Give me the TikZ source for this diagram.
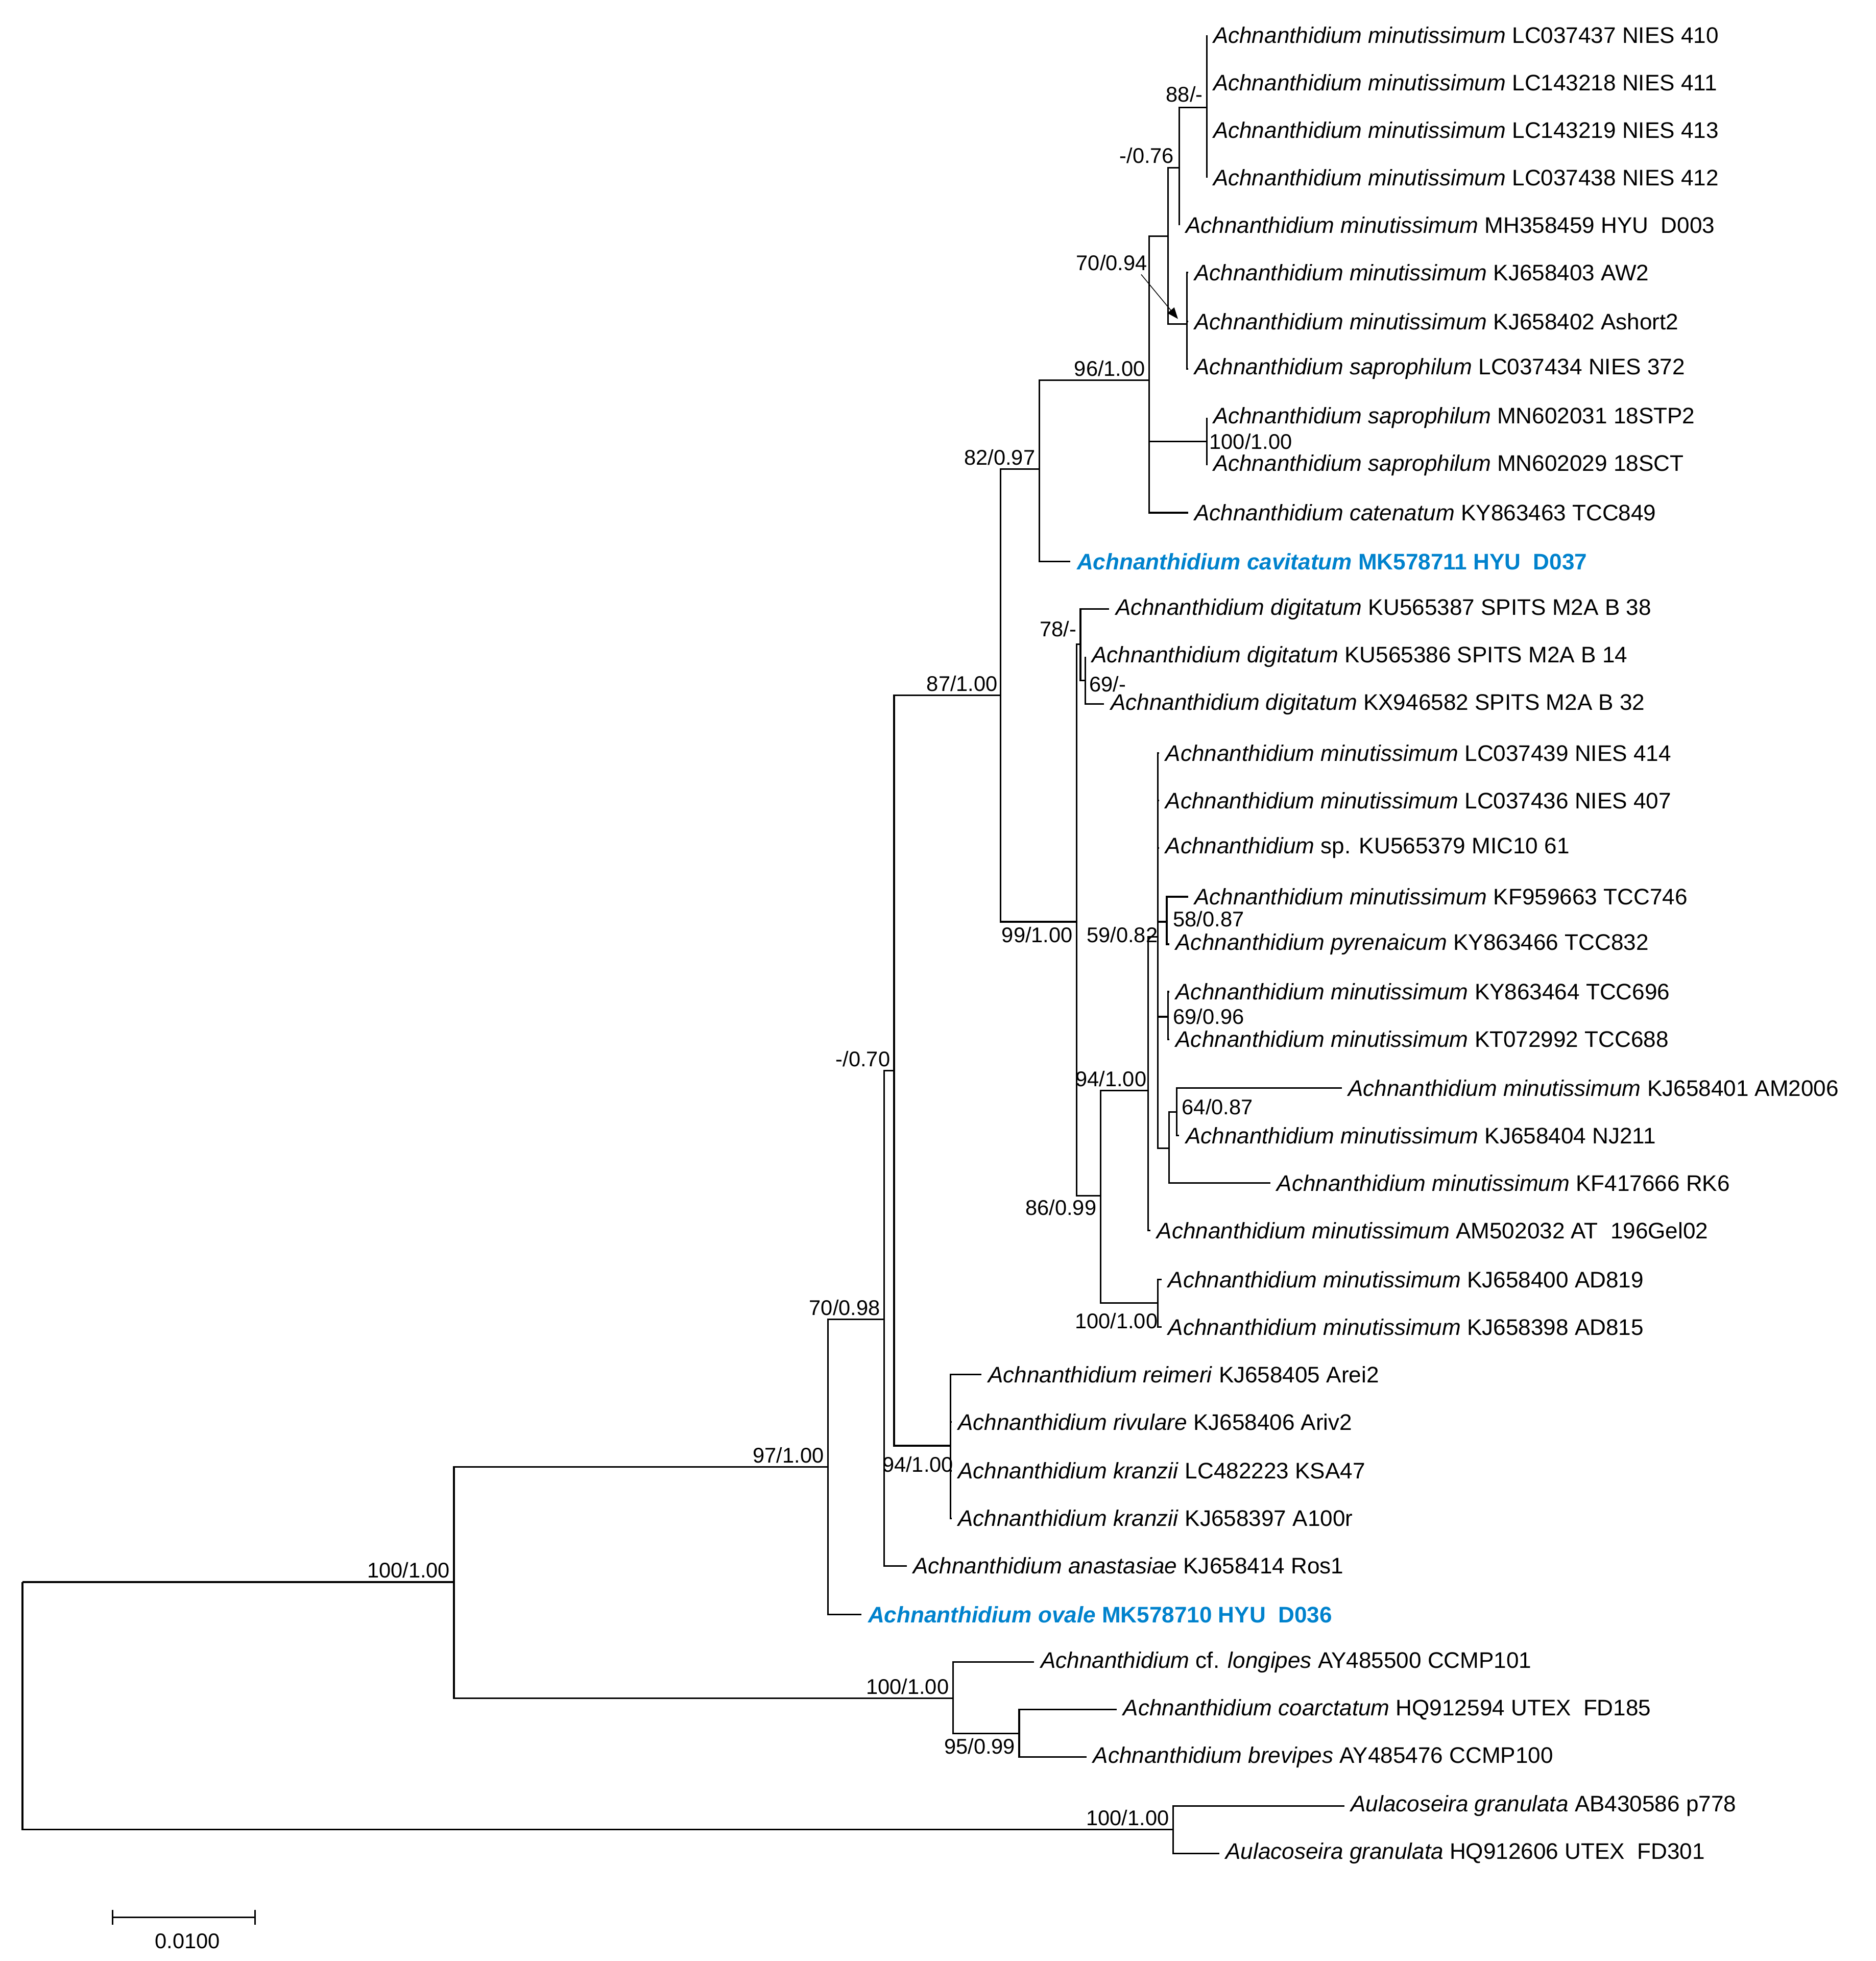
\documentclass[tikz,border=0pt]{standalone}
\usepackage{fontspec}
\setmainfont{Liberation Sans}
\usetikzlibrary{arrows.meta}
\definecolor{hl}{RGB}{0,130,205}
\newcommand{\gp}{\hspace{0.55em}}
\begin{document}
\begin{tikzpicture}[x=1pt,y=-1pt,
  leaf/.style={anchor=west,inner xsep=5pt,inner ysep=0pt,font=\fontsize{18}{20}\selectfont},
  hleaf/.style={leaf,text=hl,font=\fontsize{18}{20}\selectfont\bfseries},
  lab/.style={inner sep=1pt,font=\fontsize{17}{19}\selectfont},
  br/.style={line width=1.3pt}]
\useasboundingbox (0,0) rectangle (1500,1568);
% internal nodes
\coordinate (root) at (18,1265);
\coordinate (A) at (363,1265);
\coordinate (B) at (662,1173);
\coordinate (C) at (707,1055);
\coordinate (D) at (715,856);
\coordinate (E) at (800,556);
\coordinate (F) at (831,375);
\coordinate (G) at (919,304);
\coordinate (H) at (934,189);
\coordinate (H2) at (943,134);
\coordinate (I) at (965,86);
\coordinate (J) at (949,259);
\coordinate (K) at (965,353);
\coordinate (L) at (861,737);
\coordinate (M) at (864,515);
\coordinate (N) at (868,544);
\coordinate (P) at (880,956);
\coordinate (Q) at (918,872);
\coordinate (R) at (926,749);
\coordinate (S) at (933,737);
\coordinate (T) at (934,813);
\coordinate (U) at (935,918);
\coordinate (V) at (941,889);
\coordinate (W) at (926,1042);
\coordinate (X) at (760,1156);
\coordinate (Y) at (762,1358);
\coordinate (Z) at (815,1386);
\coordinate (Au) at (938,1463);
% leaves
\node[leaf] (l1) at (965,28) {\textit{Achnanthidium minutissimum} LC037437 NIES 410};
\node[leaf] (l2) at (965,66) {\textit{Achnanthidium minutissimum} LC143218 NIES 411};
\node[leaf] (l3) at (965,104) {\textit{Achnanthidium minutissimum} LC143219 NIES 413};
\node[leaf] (l4) at (965,142) {\textit{Achnanthidium minutissimum} LC037438 NIES 412};
\node[leaf] (l5) at (943,180) {\textit{Achnanthidium minutissimum} MH358459 HYU\gp D003};
\node[leaf] (l6) at (950,218) {\textit{Achnanthidium minutissimum} KJ658403 AW2};
\node[leaf] (l7) at (950,257) {\textit{Achnanthidium minutissimum} KJ658402 Ashort2};
\node[leaf] (l8) at (950,295) {\textit{Achnanthidium saprophilum} LC037434 NIES 372};
\node[leaf] (l9) at (965,334) {\textit{Achnanthidium saprophilum} MN602031 18STP2};
\node[leaf] (l10) at (965,372) {\textit{Achnanthidium saprophilum} MN602029 18SCT};
\node[leaf] (l11) at (950,410) {\textit{Achnanthidium catenatum} KY863463 TCC849};
\node[hleaf] (l12) at (856,449) {\textit{Achnanthidium cavitatum} MK578711 HYU\gp D037};
\node[leaf] (l13) at (887,487) {\textit{Achnanthidium digitatum} KU565387 SPITS M2A B 38};
\node[leaf] (l14) at (868,525) {\textit{Achnanthidium digitatum} KU565386 SPITS M2A B 14};
\node[leaf] (l15) at (883,563) {\textit{Achnanthidium digitatum} KX946582 SPITS M2A B 32};
\node[leaf] (l16) at (927,602) {\textit{Achnanthidium minutissimum} LC037439 NIES 414};
\node[leaf] (l17) at (927,640) {\textit{Achnanthidium minutissimum} LC037436 NIES 407};
\node[leaf] (l18) at (927,678) {\textit{Achnanthidium} sp. KU565379 MIC10 61};
\node[leaf] (l19) at (950,717) {\textit{Achnanthidium minutissimum} KF959663 TCC746};
\node[leaf] (l20) at (935,755) {\textit{Achnanthidium pyrenaicum} KY863466 TCC832};
\node[leaf] (l21) at (935,793) {\textit{Achnanthidium minutissimum} KY863464 TCC696};
\node[leaf] (l22) at (935,831) {\textit{Achnanthidium minutissimum} KT072992 TCC688};
\node[leaf] (l23) at (1073,870) {\textit{Achnanthidium minutissimum} KJ658401 AM2006};
\node[leaf] (l24) at (943,908) {\textit{Achnanthidium minutissimum} KJ658404 NJ211};
\node[leaf] (l25) at (1016,946) {\textit{Achnanthidium minutissimum} KF417666 RK6};
\node[leaf] (l26) at (920,984) {\textit{Achnanthidium minutissimum} AM502032 AT\gp 196Gel02};
\node[leaf] (l27) at (929,1023) {\textit{Achnanthidium minutissimum} KJ658400 AD819};
\node[leaf] (l28) at (929,1061) {\textit{Achnanthidium minutissimum} KJ658398 AD815};
\node[leaf] (l29) at (785,1099) {\textit{Achnanthidium reimeri} KJ658405 Arei2};
\node[leaf] (l30) at (761,1137) {\textit{Achnanthidium rivulare} KJ658406 Ariv2};
\node[leaf] (l31) at (761,1176) {\textit{Achnanthidium kranzii} LC482223 KSA47};
\node[leaf] (l32) at (761,1214) {\textit{Achnanthidium kranzii} KJ658397 A100r};
\node[leaf] (l33) at (725,1252) {\textit{Achnanthidium anastasiae} KJ658414 Ros1};
\node[hleaf] (l34) at (689,1291) {\textit{Achnanthidium ovale} MK578710 HYU\gp D036};
\node[leaf] (l35) at (827,1329) {\textit{Achnanthidium} cf. \textit{longipes} AY485500 CCMP101};
\node[leaf] (l36) at (893,1367) {\textit{Achnanthidium coarctatum} HQ912594 UTEX\gp FD185};
\node[leaf] (l37) at (869,1405) {\textit{Achnanthidium brevipes} AY485476 CCMP100};
\node[leaf] (l38) at (1075,1444) {\textit{Aulacoseira granulata} AB430586 p778};
\node[leaf] (l39) at (975,1482) {\textit{Aulacoseira granulata} HQ912606 UTEX\gp FD301};
% branches
\draw[br] (root) -- (A);
\draw[br] (root) |- (Au);
\draw[br] (A) |- (B); \draw[br] (A) |- (Y);
\draw[br] (B) |- (C); \draw[br] (B) |- (l34.west);
\draw[br] (C) |- (D); \draw[br] (C) |- (l33.west);
\draw[br] (D) |- (E); \draw[br] (D) |- (X);
\draw[br] (E) |- (F); \draw[br] (E) |- (L);
\draw[br] (F) |- (G); \draw[br] (F) |- (l12.west);
\draw[br] (G) |- (H); \draw[br] (G) |- (K); \draw[br] (G) |- (l11.west);
\draw[br] (H) |- (H2); \draw[br] (H) |- (J);
\draw[br] (H2) |- (I); \draw[br] (H2) |- (l5.west);
\foreach \l in {l1,l2,l3,l4} \draw[br] (I) |- (\l.west);
\foreach \l in {l6,l7,l8} \draw[br] (J) |- (\l.west);
\foreach \l in {l9,l10} \draw[br] (K) |- (\l.west);
\draw[br] (L) |- (M); \draw[br] (L) |- (P);
\draw[br] (M) |- (l13.west); \draw[br] (M) |- (N);
\foreach \l in {l14,l15} \draw[br] (N) |- (\l.west);
\draw[br] (P) |- (Q); \draw[br] (P) |- (W);
\draw[br] (Q) |- (R); \draw[br] (Q) |- (l26.west);
\foreach \l in {l16,l17,l18} \draw[br] (R) |- (\l.west);
\draw[br] (R) |- (S); \draw[br] (R) |- (T); \draw[br] (R) |- (U);
\foreach \l in {l19,l20} \draw[br] (S) |- (\l.west);
\foreach \l in {l21,l22} \draw[br] (T) |- (\l.west);
\draw[br] (U) |- (V); \draw[br] (U) |- (l25.west);
\foreach \l in {l23,l24} \draw[br] (V) |- (\l.west);
\foreach \l in {l27,l28} \draw[br] (W) |- (\l.west);
\foreach \l in {l29,l30,l31,l32} \draw[br] (X) |- (\l.west);
\draw[br] (Y) |- (l35.west); \draw[br] (Y) |- (Z);
\foreach \l in {l36,l37} \draw[br] (Z) |- (\l.west);
\foreach \l in {l38,l39} \draw[br] (Au) |- (\l.west);
% support labels
\node[lab,anchor=south east] (s1) at (963,83) {88/-};
\node[lab,anchor=south east] (s2) at (940,132) {-/0.76};
\node[lab] (s3) at (889,210) {70/0.94};
\coordinate (s3t) at (942,255);
\draw[line width=0.6pt,-{Triangle[length=9pt,width=7pt]}] (s3.south east) ++(-6,2) -- (s3t);
\node[lab,anchor=south east] (s4) at (917,302) {96/1.00};
\node[lab,anchor=west] (s5) at (966,353) {100/1.00};
\node[lab,anchor=south east] (s6) at (829,373) {82/0.97};
\node[lab,anchor=south east] (s7) at (799,554) {87/1.00};
\node[lab,anchor=east] (s8) at (862,503) {78/-};
\node[lab,anchor=west] (s9) at (870,547) {69/-};
\node[lab,anchor=north east] (s10) at (859,740) {99/1.00};
\node[lab,anchor=north east] (s11) at (927,740) {59/0.82};
\node[lab,anchor=west] (s12) at (937,735) {58/0.87};
\node[lab,anchor=west] (s13) at (937,813) {69/0.96};
\node[lab,anchor=south east] (s14) at (918,870) {94/1.00};
\node[lab,anchor=west] (s15) at (944,885) {64/0.87};
\node[lab,anchor=north east] (s16) at (878,958) {86/0.99};
\node[lab,anchor=east] (s17) at (927,1056) {100/1.00};
\node[lab,anchor=south east] (s18) at (713,854) {-/0.70};
\node[lab,anchor=south east] (s19) at (705,1053) {70/0.98};
\node[lab,anchor=south east] (s20) at (660,1171) {97/1.00};
\node[lab] (s21) at (734,1171) {94/1.00};
\node[lab,anchor=south east] (s22) at (361,1263) {100/1.00};
\node[lab,anchor=south east] (s23) at (760,1356) {100/1.00};
\node[lab,anchor=north east] (s24) at (813,1389) {95/0.99};
\node[lab,anchor=south east] (s25) at (936,1461) {100/1.00};
% scale bar
\coordinate (sb1) at (90,1533); \coordinate (sb2) at (204,1533);
\draw[line width=1.3pt] (sb1) -- (sb2);
\draw[line width=1.3pt] (90,1527) -- (90,1539) (204,1527) -- (204,1539);
\node[lab] (sbl) at (150,1552) {0.0100};
\end{tikzpicture}
\end{document}
